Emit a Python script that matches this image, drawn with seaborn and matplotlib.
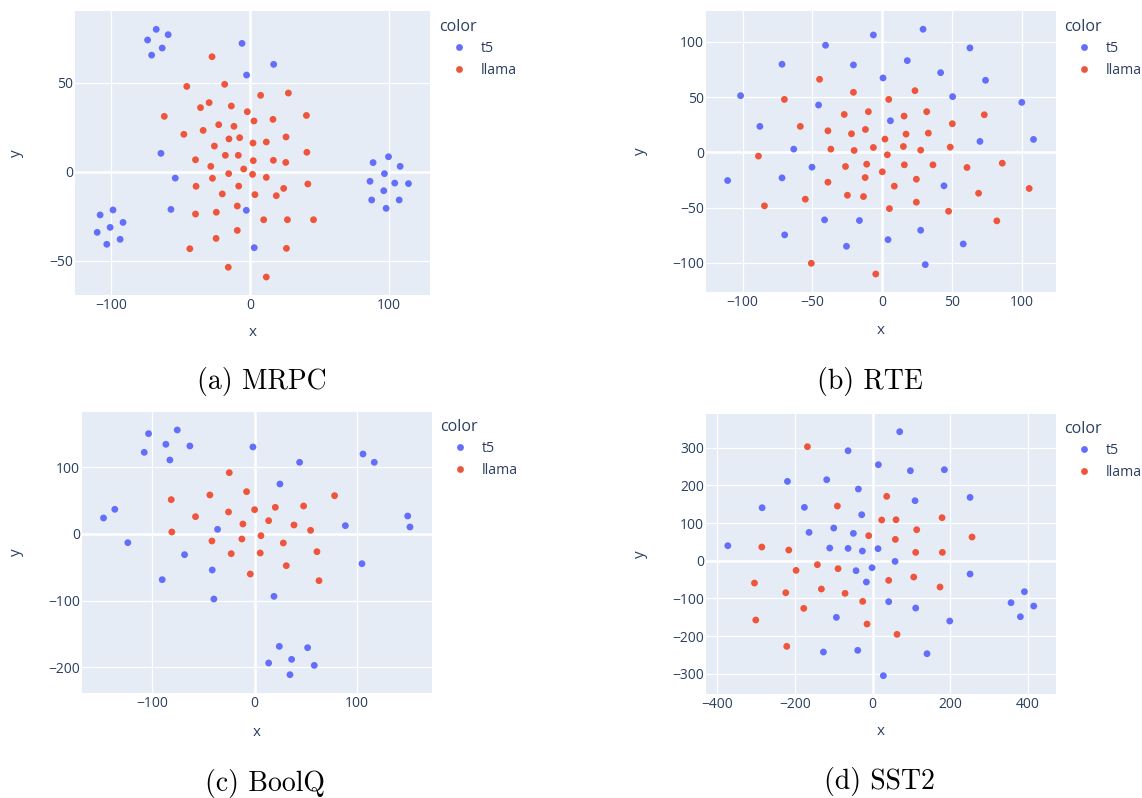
import pandas as pd
import matplotlib
matplotlib.use('Agg')
import matplotlib.pyplot as plt
import seaborn as sns

# t-SNE points (t5 / llama)
mrpc_t5_x = [-67.5, -58.9, -73.7, -63.2, -70.8, -5.7, -2.4, -64.1, -53.8, -56.9, -2.6,
             -107.9, -98.6, -91.4, -100.7, -110.0, -93.5, -103.1, 17.1, 3.1,
             99.8, 88.7, 108.2, 96.9, 86.5, 104.3, 114.2, 96.4, 87.7, 107.5, 98.1]
mrpc_t5_y = [80.0, 77.0, 74.0, 69.5, 65.5, 72.1, 54.3, 10.3, -3.6, -21.2, -21.7,
             -24.3, -21.5, -28.5, -31.3, -34.1, -38.0, -40.8, 60.3, -42.7,
             8.4, 5.1, 3.0, -1.1, -5.4, -6.4, -6.7, -10.7, -15.9, -15.9, -20.6]
mrpc_llama_x = [-27.3, -18.2, -45.5, -29.4, -35.6, -13.4, -1.9, -61.7, -22.5, -11.5, -33.7,
                -47.6, -7.4, -15.1, -25.6, -17.7, -8.4, -39.2, -28.2, -4.5, -15.3, -27.0,
                -38.8, -8.1, -19.9, -9.1, -24.2, -39.2, -9.1, -24.4, -43.3, -15.6,
                7.7, 27.7, 2.9, 16.6, 40.7, 2.2, 11.8, 26.0, 2.4, 16.9, 25.8, 41.0,
                1.9, 11.8, 3.6, 19.0, 24.3, 41.7, 9.9, 27.0, 45.8, 26.3, 11.8]
mrpc_llama_y = [64.6, 49.1, 47.9, 38.8, 36.0, 36.9, 33.7, 31.1, 26.4, 25.5, 23.2,
                21.0, 19.1, 18.4, 14.4, 9.2, 9.2, 6.7, 3.0, 1.5, -1.1, -3.7,
                -8.2, -8.1, -12.5, -19.3, -22.8, -23.8, -33.0, -37.5, -43.3, -53.7,
                42.9, 44.2, 28.5, 29.4, 31.6, 16.1, 16.7, 19.5, 6.2, 6.4, 5.2, 10.9,
                -1.5, -3.2, -12.9, -13.5, -9.4, -6.9, -27.0, -27.0, -27.0, -43.1, -59.2]

rte_t5_x = [-40.5, -71.7, -20.5, -101.4, -45.5, -87.6, -63.3, -50.2, -110.7, -71.7, -41.2,
            -16.2, -69.8, -25.5, -6.2, 29.4, 18.1, 63.0, 42.0, 0.7, 74.2, 50.6, 100.2,
            6.0, 70.2, 108.6, 44.4, 27.7, 4.3, 58.2, 31.0]
rte_t5_y = [97.0, 79.8, 79.2, 51.4, 42.9, 23.6, 3.0, -13.3, -25.4, -23.0, -61.0,
            -61.6, -74.6, -84.9, 106.3, 111.5, 83.1, 94.6, 72.2, 67.4, 65.3, 50.5, 45.3,
            28.7, 10.0, 11.8, -30.2, -70.4, -78.9, -82.8, -101.5]
rte_llama_x = [-44.8, -20.5, -70.0, -9.8, -27.1, -58.6, -38.8, -11.9, -21.9, -36.7, -20.0,
               -88.6, -11.0, -26.2, -12.1, -38.8, -55.0, -24.8, -13.3, -84.3, -50.7,
               23.6, 4.8, 15.8, 32.0, 73.3, 50.4, 2.1, 17.2, 33.2, -6.2, 15.3, 27.7,
               48.9, 3.8, 16.0, 36.5, 60.9, 86.2, 0.2, 8.8, 24.6, 69.2, 105.5, 24.6,
               5.3, 47.7, 82.3, -4.5]
rte_llama_y = [66.2, 54.4, 48.0, 36.9, 34.4, 23.6, 19.6, 20.8, 16.9, 3.0, 1.8,
               -3.3, -10.6, -12.7, -22.7, -26.9, -42.3, -38.7, -39.9, -48.3, -100.3,
               55.9, 48.0, 32.9, 36.9, 34.1, 26.0, 12.1, 16.6, 17.5, 4.5, 5.4, 2.1,
               4.8, -2.1, -11.2, -11.2, -13.6, -9.7, -17.5, -30.5, -24.2, -36.9, -32.6, -45.0,
               -50.8, -53.2, -61.9, -110.0]

boolq_t5_x = [-103.4, -75.4, -86.5, -107.6, -63.1, -82.6, -1.6, -147.3, -136.3, -123.6,
              -36.1, -68.3, -41.3, -90.1, -39.7, 105.7, 116.7, 43.9, 24.7, 149.3, 151.5,
              88.5, 104.7, 18.9, 24.1, 51.7, 36.1, 13.7, 58.2, 34.5]
boolq_t5_y = [150.5, 156.0, 134.5, 122.5, 132.0, 111.0, 130.5, 24.0, 37.0, -13.0,
              7.0, -31.0, -54.0, -68.5, -97.5, 120.0, 107.5, 107.5, 75.0, 27.0, 10.5,
              12.5, -44.5, -93.5, -168.5, -170.5, -188.0, -193.5, -197.0, -211.0]
boolq_llama_x = [-24.7, -7.8, -43.6, -81.3, -25.4, 0.0, -57.6, -11.4, -80.7, -12.4, -41.6,
                 -22.8, -4.2, 78.0, 20.2, 47.8, 13.7, 38.4, 54.6, 6.2, 28.0, 5.5, 60.8,
                 30.9, 62.8]
boolq_llama_y = [92.0, 63.5, 58.5, 51.5, 33.0, 36.5, 26.0, 15.0, 3.0, -7.5, -10.5,
                 -29.5, -60.0, 57.5, 40.0, 42.0, 20.0, 13.5, 5.5, -2.5, -13.5, -28.5, -26.5,
                 -47.5, -70.0]

sst2_t5_x = [-63.5, -219.7, -118.5, -36.9, -285.0, -176.0, -28.3, -100.4, -164.0, -49.8,
             -373.4, -110.7, -63.5, -26.6, -42.9, -16.3, -93.6, -127.0, -38.6,
             69.6, 14.6, 97.1, 184.7, 109.1, 250.9, 13.7, 57.6, -1.7, 250.9, 41.2,
             110.8, 198.5, 391.0, 356.5, 415.0, 380.6, 140.0, 27.5]
sst2_t5_y = [292.0, 210.6, 215.0, 190.3, 140.7, 141.6, 122.1, 86.7, 75.2, 72.6,
             39.8, 33.6, 32.7, 25.7, -26.5, -56.6, -150.4, -242.5, -238.0,
             342.5, 254.9, 238.9, 241.6, 159.3, 168.1, 31.9, -1.8, -18.6, -35.4, -108.8,
             -125.7, -160.2, -82.3, -111.5, -120.4, -148.7, -246.9, -305.3]
sst2_llama_x = [-168.2, -91.0, -10.3, -285.8, -216.3, -142.5, -197.4, -89.3, -304.7, -224.0,
                -132.2, -71.2, -25.8, -177.7, -301.3, -14.6, -221.5,
                36.1, 23.2, 60.1, 178.7, 113.4, 58.4, 256.0, 110.8, 179.6, 41.2, 105.7,
                173.5, 62.7]
sst2_llama_y = [302.7, 145.1, 66.4, 36.3, 28.3, -10.6, -25.7, -21.2, -59.3, -85.0,
                -75.2, -86.7, -108.0, -126.5, -157.5, -168.1, -227.4,
                170.8, 108.0, 108.8, 114.2, 82.3, 56.6, 62.8, 22.1, 22.1, -52.2, -43.4,
                -69.9, -195.6]

captions = ['(a) MRPC', '(b) RTE', '(c) BoolQ', '(d) SST2']

W, H = 1142, 798
TXT = '#2a3f5f'
sns.set_style('darkgrid', {'axes.facecolor': '#E5ECF6', 'grid.color': 'white',
                           'axes.edgecolor': 'none'})
plt.rcParams['font.family'] = ['Open Sans', 'DejaVu Sans']
plt.rcParams['text.color'] = TXT

fig = plt.figure(figsize=(W / 100, H / 100), dpi=100)


def panel(t5x, t5y, lx, ly, box, xlim, ylim, xticks, yticks, leg, xlab, ylab_x):
    l, t, r, b = box
    ax = fig.add_axes([l / W, 1 - b / H, (r - l) / W, (b - t) / H])
    df = pd.DataFrame({
        'x': t5x + lx,
        'y': t5y + ly,
        'color': ['t5'] * len(t5x) + ['llama'] * len(lx),
    })
    sns.scatterplot(data=df, x='x', y='y', hue='color', hue_order=['t5', 'llama'],
                    palette={'t5': '#636EFA', 'llama': '#EF553B'},
                    s=24, linewidth=0, ax=ax, zorder=3)
    ax.set_xlim(*xlim)
    ax.set_ylim(*ylim)
    ax.set_xticks(xticks)
    ax.set_yticks(yticks)
    ax.grid(True, color='white', linewidth=0.9)
    ax.axhline(0, color='white', linewidth=1.8, zorder=2)
    ax.axvline(0, color='white', linewidth=1.8, zorder=2)
    ax.tick_params(length=0, labelsize=10, colors=TXT)
    ax.tick_params(axis='x', pad=2.5)
    ax.tick_params(axis='y', pad=1.5)
    for s in ax.spines.values():
        s.set_visible(False)

    ax.set_xlabel('x', fontsize=11, color=TXT)
    ax.set_ylabel('y', fontsize=11, color=TXT)
    ax.xaxis.label.set_va('center')
    ax.yaxis.label.set_va('center')
    ax.xaxis.set_label_coords(0.5, (b - xlab) / (b - t))
    ax.yaxis.set_label_coords((ylab_x - l) / (r - l), 0.5)

    sns.move_legend(ax, 'upper left', bbox_to_anchor=(leg[0] / W, 1 - leg[1] / H),
                    bbox_transform=fig.transFigure, frameon=False, title='color',
                    fontsize=10.2, title_fontsize=11.5, borderaxespad=0, borderpad=0,
                    handlelength=2.8, handletextpad=0.12, labelspacing=0.45,
                    markerscale=1.0)
    lg = ax.get_legend()
    lg._legend_box.align = 'left'
    for txt in lg.get_texts():
        txt.set_color(TXT)
    lg.get_title().set_color(TXT)
    return ax


panel(mrpc_t5_x, mrpc_t5_y, mrpc_llama_x, mrpc_llama_y,
      (75, 11, 430, 295), (-126, 129.7), (-69.3, 90.3),
      [-100, 0, 100], [-50, 0, 50], (439, 19), 333, 16.7)
panel(rte_t5_x, rte_t5_y, rte_llama_x, rte_llama_y,
      (706, 11, 1055.7, 291.7), (-126.2, 124.5), (-126, 128),
      [-100, -50, 0, 50, 100], [-100, -50, 0, 50, 100], (1064, 19), 330, 640.7)
panel(boolq_t5_x, boolq_t5_y, boolq_llama_x, boolq_llama_y,
      (82.3, 412.3, 431.7, 692.7), (-168, 172.7), (-238, 182.5),
      [-100, 0, 100], [-200, -100, 0, 100], (440, 419), 732, 16.7)
panel(sst2_t5_x, sst2_t5_y, sst2_llama_x, sst2_llama_y,
      (706, 414, 1055.7, 694), (-429.6, 471.6), (-353.9, 389.5),
      [-400, -200, 0, 200, 400], [-300, -200, -100, 0, 100, 200, 300], (1064, 421),
      731.7, 640.7)

cap_pos = [(262, 382), (870, 382), (265, 783), (879, 782)]
for cap, (cx, cy) in zip(captions, cap_pos):
    fig.text(cx / W, 1 - cy / H, cap, ha='center', va='center', fontsize=20,
             family='cmr10', color='black')

fig.savefig('out.png', dpi=100)
